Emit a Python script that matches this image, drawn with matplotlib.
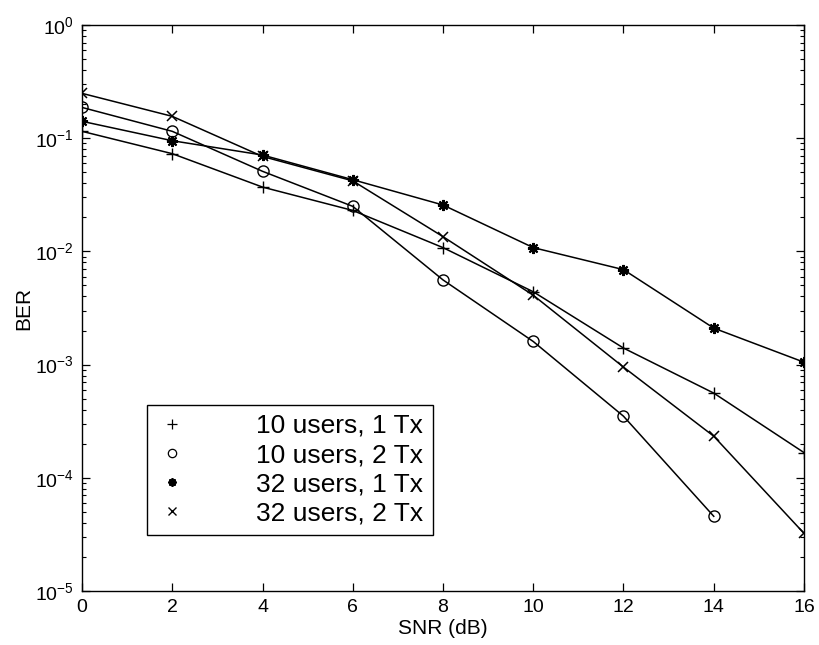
import matplotlib
matplotlib.use("Agg")
import matplotlib.pyplot as plt
from matplotlib.lines import Line2D

plt.rcParams["font.family"] = ["Liberation Sans", "DejaVu Sans"]
plt.rcParams["mathtext.fontset"] = "custom"
plt.rcParams["mathtext.rm"] = "Liberation Sans"
plt.rcParams["mathtext.it"] = "Liberation Sans:italic"

snr = [0, 2, 4, 6, 8, 10, 12, 14, 16]
snr_short = [0, 2, 4, 6, 8, 10, 12, 14]

ber_10u_1tx = [0.115, 0.073, 0.037, 0.023, 0.0108, 0.0044, 0.0014, 0.00056, 0.000167]
ber_10u_2tx = [0.187, 0.115, 0.051, 0.025, 0.0056, 0.0016, 0.00035, 0.0000457]
ber_32u_1tx = [0.141, 0.095, 0.071, 0.043, 0.0257, 0.0108, 0.0069, 0.0021, 0.00105]
ber_32u_2tx = [0.249, 0.156, 0.069, 0.042, 0.0135, 0.0041, 0.00095, 0.000233, 0.0000323]

labels = ["10 users, 1 Tx", "10 users, 2 Tx", "32 users, 1 Tx", "32 users, 2 Tx"]

# matlab style asterisk: plus and cross overlaid
asterisk = (8, 2, 0)

series = [
    (snr, ber_10u_1tx, "+", 9, 1.0),
    (snr_short, ber_10u_2tx, "o", 8, 1.0),
    (snr, ber_32u_1tx, asterisk, 8, 1.5),
    (snr, ber_32u_2tx, "x", 7, 1.1),
]

fig = plt.figure(figsize=(8.2, 6.45), dpi=100)
ax = fig.add_axes([82 / 820, 1 - 591 / 645, 722 / 820, 566 / 645])

handles = []
for (x, y, m, ms, mew), lab in zip(series, labels):
    ax.plot(x, y, color="black", lw=1.1, marker=m, ms=ms, mew=mew,
            mfc="none", mec="black")
    handles.append(Line2D([], [], ls="none", color="black", marker=m,
                          ms=ms * 0.75, mew=mew * 0.9, mfc="none", label=lab))

ax.set_yscale("log")
ax.set_xlim(0, 16)
ax.set_ylim(1e-5, 1)
ax.set_xticks(range(0, 17, 2))

ax.tick_params(which="both", direction="in", top=True, right=True,
               labelsize=14, colors="black")
ax.tick_params(which="major", length=6, width=0.9, pad=6)
ax.tick_params(which="minor", length=3, width=0.8)
for s in ax.spines.values():
    s.set_linewidth(1.0)

ax.set_xlabel("SNR (dB)", fontsize=15, labelpad=2)
ax.set_ylabel("BER", fontsize=15, labelpad=1)

leg = ax.legend(handles=handles, loc="lower left",
                bbox_to_anchor=(0.09, 0.099), fontsize=19,
                frameon=True, fancybox=False, edgecolor="black",
                framealpha=1, borderpad=0.35, labelspacing=0.2,
                handlelength=1.2, handletextpad=2.6, borderaxespad=0,
                markerfirst=True)
leg.get_frame().set_linewidth(1.0)

fig.savefig("out.png", dpi=100)
